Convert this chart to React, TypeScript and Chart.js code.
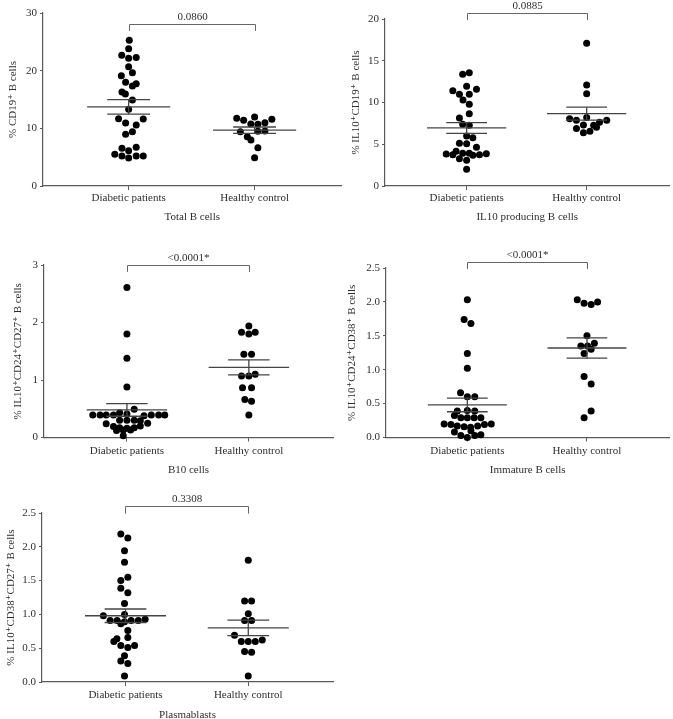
import React, { useEffect, useRef } from 'react';
import Chart from 'chart.js/auto';

const categories = ['Diabetic patients', 'Healthy control'];

// ---- Panel 1: Total B cells ----
const totalDiabetic = [25.26, 23.8, 22.66, 22.14, 22.3, 20.7, 19.13, 19.65, 18.0, 17.75, 17.34, 16.3, 15.95, 14.9, 13.3, 11.68, 11.6, 10.92, 10.58, 8.96, 9.42, 6.53, 6.13, 6.7, 5.49, 5.2, 4.86, 5.2, 5.2];
const totalDiabeticJitter = [0.005, 0, -0.055, 0, 0.06, 0, -0.058, 0.03, -0.024, 0.06, 0.03, -0.053, -0.026, 0.03, 0, -0.08, 0.116, -0.024, 0.06, -0.024, 0.03, -0.053, 0, 0.06, -0.11, -0.053, 0, 0.06, 0.116];
const totalHealthy = [11.73, 11.39, 11.97, 11.56, 10.75, 10.69, 10.98, 9.42, 9.5, 9.54, 8.55, 7.98, 6.65, 4.91];
const totalHealthyJitter = [-0.142, -0.087, 0, 0.137, -0.03, 0.026, 0.082, -0.113, 0.026, 0.082, -0.058, -0.029, 0.026, 0];
const totalMeans = [13.72, 9.68];
const totalSems = [1.27, 0.55];
const totalYTicks = [0, 10, 20, 30];
const totalYTickLabels = ['0', '10', '20', '30'];

// ---- Panel 2: IL10 producing B cells ----
const il10Diabetic = [13.37, 13.57, 11.94, 11.42, 11.58, 10.98, 10.98, 10.3, 9.78, 8.66, 8.14, 7.39, 7.27, 5.99, 5.79, 5.11, 5.07, 4.63, 4.15, 3.83, 3.75, 3.91, 3.91, 3.67, 3.75, 3.87, 3.27, 3.07, 2.0];
const il10DiabeticJitter = [-0.033, 0.022, 0, -0.115, 0.082, -0.06, 0.022, -0.03, 0.022, 0.022, -0.06, -0.033, 0.022, 0, 0.052, -0.06, 0, 0.082, -0.088, -0.17, -0.115, -0.033, 0.022, 0.052, 0.107, 0.164, -0.06, 0, 0];
const il10Healthy = [17.09, 12.1, 11.06, 8.06, 7.86, 8.2, 7.62, 7.86, 6.9, 7.3, 7.27, 7.03, 6.39, 6.55];
const il10HealthyJitter = [0, 0, 0, -0.142, -0.085, 0, 0.107, 0.167, -0.085, -0.027, 0.058, 0.082, -0.027, 0.027];
const il10Means = [6.95, 8.66];
const il10Sems = [0.64, 0.78];
const il10YTicks = [0, 5, 10, 15, 20];
const il10YTickLabels = ['0', '5', '10', '15', '20'];

// ---- Panel 3: B10 cells ----
const b10Diabetic = [2.61, 1.8, 1.38, 0.88, 0.49, 0.39, 0.39, 0.39, 0.39, 0.43, 0.41, 0.38, 0.39, 0.39, 0.39, 0.3, 0.3, 0.3, 0.24, 0.25, 0.29, 0.19, 0.2, 0.17, 0.16, 0.17, 0.12, 0.13, 0.13, 0.03];
const b10DiabeticJitter = [0, 0, 0, 0, 0.06, -0.28, -0.22, -0.17, -0.11, -0.06, 0, 0.14, 0.2, 0.26, 0.31, -0.06, 0, 0.06, -0.17, 0.17, 0.11, -0.11, 0.11, -0.06, 0, 0.06, -0.085, -0.03, 0.03, -0.03];
const b10Healthy = [1.94, 1.83, 1.8, 1.83, 1.45, 1.45, 1.07, 1.07, 1.1, 0.865, 0.865, 0.66, 0.63, 0.39];
const b10HealthyJitter = [0, -0.06, 0, 0.052, -0.041, 0.022, -0.06, 0, 0.052, -0.052, 0.022, -0.033, 0.022, 0];
const b10Means = [0.48, 1.22];
const b10Sems = [0.11, 0.13];
const b10YTicks = [0, 1, 2, 3];
const b10YTickLabels = ['0', '1', '2', '3'];

// ---- Panel 4: Immature B cells ----
const immDiabetic = [2.03, 1.74, 1.68, 1.24, 1.02, 0.66, 0.6, 0.6, 0.39, 0.4, 0.39, 0.325, 0.29, 0.29, 0.29, 0.29, 0.2, 0.19, 0.17, 0.16, 0.15, 0.17, 0.19, 0.2, 0.08, 0.03, 0.0, 0.03, 0.04, 0.1];
const immDiabeticJitter = [0, -0.027, 0.03, 0, 0, -0.057, 0, 0.062, -0.084, 0, 0.062, -0.108, -0.054, 0, 0.057, 0.113, -0.194, -0.137, -0.084, -0.027, 0.027, 0.086, 0.143, 0.2, -0.108, -0.054, 0, 0.062, 0.113, 0.03];
const immHealthy = [2.03, 1.98, 1.96, 2.0, 1.5, 1.35, 1.35, 1.39, 1.3, 1.24, 0.9, 0.79, 0.39, 0.29];
const immHealthyJitter = [-0.081, -0.024, 0.035, 0.089, 0, -0.051, 0.005, 0.062, 0.035, -0.024, -0.024, 0.035, 0.035, -0.024];
const immMeans = [0.48, 1.32];
const immSems = [0.1, 0.15];
const immYTicks = [0, 0.5, 1, 1.5, 2, 2.5];
const immYTickLabels = ['0.0', '0.5', '1.0', '1.5', '2.0', '2.5'];

// ---- Panel 5: Plasmablasts ----
const plasDiabetic = [2.19, 2.13, 1.94, 1.77, 1.5, 1.55, 1.385, 1.32, 1.16, 1.0, 0.98, 0.91, 0.91, 0.86, 0.89, 0.91, 0.91, 0.93, 0.76, 0.6, 0.64, 0.66, 0.54, 0.54, 0.51, 0.39, 0.31, 0.275, 0.09];
const plasDiabeticJitter = [-0.038, 0.019, -0.008, -0.008, -0.038, 0.019, -0.038, 0.019, -0.008, -0.008, -0.18, -0.125, -0.068, -0.038, -0.008, 0.046, 0.104, 0.16, 0.019, -0.095, -0.07, 0.019, -0.038, 0.074, 0.019, -0.008, -0.038, 0.019, -0.008];
const plasHealthy = [1.8, 1.2, 1.2, 1.01, 0.91, 0.91, 0.69, 0.6, 0.6, 0.6, 0.62, 0.45, 0.44, 0.09];
const plasHealthyJitter = [0, -0.03, 0.027, 0, -0.03, 0.027, -0.112, -0.057, 0, 0.057, 0.114, -0.03, 0.027, 0];
const plasMeans = [0.98, 0.8];
const plasSems = [0.1, 0.115];
const plasYTicks = [0, 0.5, 1, 1.5, 2, 2.5];
const plasYTickLabels = ['0.0', '0.5', '1.0', '1.5', '2.0', '2.5'];

const yTitles = [
  '% CD19\u207A B cells',
  '% IL10\u207ACD19\u207A B cells',
  '% IL10\u207ACD24\u207ACD27\u207A B cells',
  '% IL10\u207ACD24\u207ACD38\u207A B cells',
  '% IL10\u207ACD38\u207ACD27\u207A B cells',
];
const xTitles = ['Total B cells', 'IL10 producing B cells', 'B10 cells', 'Immature B cells', 'Plasmablasts'];
const pLabels = ['0.0860', '0.0885', '<0.0001*', '<0.0001*', '0.3308'];
const bracketLevels = [28.1, 20.68, 3.0, 2.584, 2.6];
const bracketDrops = [26.9, 19.88, 2.88, 2.485, 2.49];

const FONT_FAMILY = "'Liberation Serif', 'Times New Roman', 'DejaVu Serif', serif";
const TEXT = '#2e2e2e';
const AXIS = '#5a5a5a';
const MEAN = '#444444';

type Layout = {
  canvas: { left: number; top: number; w: number; h: number };
  area: { left: number; right: number; top: number; bottom: number };
  labelOff: number;
  titleOff: number;
  yTitleX: number;
};

type Spec = {
  diab: number[]; diabJit: number[];
  healthy: number[]; healthyJit: number[];
  means: number[]; sems: number[];
  yTicks: number[]; yTickLabels: string[];
  idx: number;
  layout: Layout;
};

const specs: Spec[] = [
  { diab: totalDiabetic, diabJit: totalDiabeticJitter, healthy: totalHealthy, healthyJit: totalHealthyJitter, means: totalMeans, sems: totalSems, yTicks: totalYTicks, yTickLabels: totalYTickLabels, idx: 0,
    layout: { canvas: { left: 0, top: 0, w: 345, h: 240 }, area: { left: 43, right: 343, top: 13, bottom: 186 }, labelOff: 12, titleOff: 31, yTitleX: 13.3 } },
  { diab: il10Diabetic, diabJit: il10DiabeticJitter, healthy: il10Healthy, healthyJit: il10HealthyJitter, means: il10Means, sems: il10Sems, yTicks: il10YTicks, yTickLabels: il10YTickLabels, idx: 1,
    layout: { canvas: { left: 336, top: 0, w: 337, h: 240 }, area: { left: 49, right: 337, top: 19, bottom: 186 }, labelOff: 11.7, titleOff: 31.3, yTitleX: 20.5 } },
  { diab: b10Diabetic, diabJit: b10DiabeticJitter, healthy: b10Healthy, healthyJit: b10HealthyJitter, means: b10Means, sems: b10Sems, yTicks: b10YTicks, yTickLabels: b10YTickLabels, idx: 2,
    layout: { canvas: { left: 0, top: 238, w: 340, h: 245 }, area: { left: 44, right: 333, top: 27, bottom: 199.5 }, labelOff: 13.3, titleOff: 32.5, yTitleX: 18.3 } },
  { diab: immDiabetic, diabJit: immDiabeticJitter, healthy: immHealthy, healthyJit: immHealthyJitter, means: immMeans, sems: immSems, yTicks: immYTicks, yTickLabels: immYTickLabels, idx: 3,
    layout: { canvas: { left: 336, top: 238, w: 337, h: 245 }, area: { left: 50, right: 337, top: 30, bottom: 199.5 }, labelOff: 13.2, titleOff: 32.5, yTitleX: 16.5 } },
  { diab: plasDiabetic, diabJit: plasDiabeticJitter, healthy: plasHealthy, healthyJit: plasHealthyJitter, means: plasMeans, sems: plasSems, yTicks: plasYTicks, yTickLabels: plasYTickLabels, idx: 4,
    layout: { canvas: { left: 0, top: 478, w: 340, h: 250 }, area: { left: 42, right: 333, top: 35, bottom: 204 }, labelOff: 13, titleOff: 33, yTitleX: 11.5 } },
];

const X_MIN = 0.32;
const X_MAX = 2.69;
const MEAN_HALF = 0.33;
const SEM_HALF = 0.17;
const FONT_SIZE = 11;
const LINE_H = FONT_SIZE * 1.2;
const DOT_R = 3.5;

function segment(x1: number, y1: number, x2: number, y2: number) {
  return {
    type: 'scatter' as const,
    data: [{ x: x1, y: y1 }, { x: x2, y: y2 }],
    showLine: true,
    borderColor: MEAN,
    borderWidth: 1.3,
    pointRadius: 0,
    pointHoverRadius: 0,
    clip: false as any,
    order: 0,
  };
}

function Panel({ spec }: { spec: Spec }) {
  const ref = useRef<HTMLCanvasElement>(null);
  useEffect(() => {
    const el = ref.current;
    if (!el) return;
    const { canvas, area, labelOff, titleOff, yTitleX } = spec.layout;
    const xAxisH = titleOff + LINE_H / 2;
    const tickLen = 4;
    const labelPad = labelOff - tickLen - LINE_H / 2;
    const font = { family: FONT_FAMILY, size: FONT_SIZE };

    const points = (vals: number[], jit: number[], g: number) => vals.map((v, i) => ({ x: g + jit[i], y: v }));

    const datasets: any[] = [
      { type: 'scatter', data: points(spec.diab, spec.diabJit, 1), backgroundColor: '#000', borderWidth: 0, pointRadius: DOT_R, pointHoverRadius: DOT_R, clip: false, order: 1 },
      { type: 'scatter', data: points(spec.healthy, spec.healthyJit, 2), backgroundColor: '#000', borderWidth: 0, pointRadius: DOT_R, pointHoverRadius: DOT_R, clip: false, order: 1 },
    ];
    spec.means.forEach((m, i) => {
      const g = i + 1;
      const s = spec.sems[i];
      datasets.push(segment(g - MEAN_HALF, m, g + MEAN_HALF, m));
      datasets.push(segment(g - SEM_HALF, m + s, g + SEM_HALF, m + s));
      datasets.push(segment(g - SEM_HALF, m - s, g + SEM_HALF, m - s));
      datasets.push(segment(g, m - s, g, m + s));
    });

    const bracketPlugin = {
      id: 'bracket',
      afterDatasetsDraw(chart: any) {
        const { ctx, scales } = chart;
        const x = scales.x, y = scales.y;
        const x1 = Math.round(x.getPixelForValue(1)) + 0.5;
        const x2 = Math.round(x.getPixelForValue(2)) + 0.5;
        const yl = Math.round(y.getPixelForValue(bracketLevels[spec.idx])) + 0.5;
        const yd = y.getPixelForValue(bracketDrops[spec.idx]);
        ctx.save();
        ctx.strokeStyle = '#666666';
        ctx.lineWidth = 1;
        ctx.beginPath();
        ctx.moveTo(x1, yd);
        ctx.lineTo(x1, yl);
        ctx.lineTo(x2, yl);
        ctx.lineTo(x2, yd);
        ctx.stroke();
        ctx.fillStyle = TEXT;
        ctx.font = `${FONT_SIZE}px ${FONT_FAMILY}`;
        ctx.textAlign = 'center';
        ctx.textBaseline = 'bottom';
        ctx.fillText(pLabels[spec.idx], (x1 + x2) / 2, yl - 1.5);
        ctx.restore();
      },
    };

    const yTicks = spec.yTicks;
    const chart = new Chart(el, {
      type: 'scatter',
      data: { datasets },
      options: {
        animation: false,
        responsive: false,
        devicePixelRatio: 1,
        events: [],
        layout: {
          padding: {
            left: 0,
            top: area.top,
            right: canvas.w - area.right,
            bottom: canvas.h - area.bottom - xAxisH,
          },
        },
        plugins: { legend: { display: false }, tooltip: { enabled: false } },
        scales: {
          x: {
            type: 'linear',
            min: X_MIN,
            max: X_MAX,
            afterBuildTicks: (s: any) => { s.ticks = [1, 2].map((v) => ({ value: v })); },
            afterFit: (s: any) => { s.height = xAxisH; },
            ticks: {
              callback: (v: any) => categories[Math.round(Number(v)) - 1] ?? '',
              font, color: TEXT, padding: labelPad, autoSkip: false, maxRotation: 0, minRotation: 0,
            },
            grid: { display: true, drawOnChartArea: false, drawTicks: true, tickLength: tickLen, color: AXIS, lineWidth: 1 },
            border: { display: true, color: AXIS, width: 1.2 },
            title: { display: true, text: xTitles[spec.idx], font, color: TEXT, padding: 0 },
          },
          y: {
            type: 'linear',
            min: yTicks[0],
            max: yTicks[yTicks.length - 1],
            afterBuildTicks: (s: any) => { s.ticks = yTicks.map((v) => ({ value: v })); },
            afterFit: (s: any) => { s.width = area.left; },
            ticks: {
              callback: (_v: any, i: number) => spec.yTickLabels[i],
              font, color: TEXT, padding: 3, autoSkip: false,
            },
            grid: { display: true, drawOnChartArea: false, drawTicks: true, tickLength: 3, color: AXIS, lineWidth: 1 },
            border: { display: true, color: AXIS, width: 1.2 },
            title: { display: true, text: yTitles[spec.idx], font, color: TEXT, padding: { top: yTitleX - LINE_H / 2, bottom: 0 } },
          },
        },
      } as any,
      plugins: [bracketPlugin],
    });
    return () => chart.destroy();
  }, [spec]);

  const { canvas } = spec.layout;
  return (
    <canvas
      ref={ref}
      width={canvas.w}
      height={canvas.h}
      style={{ position: 'absolute', left: canvas.left, top: canvas.top, width: canvas.w, height: canvas.h }}
    />
  );
}

export default function App() {
  return (
    <div style={{ position: 'absolute', left: 0, top: 0, width: 673, height: 719, overflow: 'hidden', background: '#fff' }}>
      {specs.map((s) => (
        <Panel key={s.idx} spec={s} />
      ))}
    </div>
  );
}
